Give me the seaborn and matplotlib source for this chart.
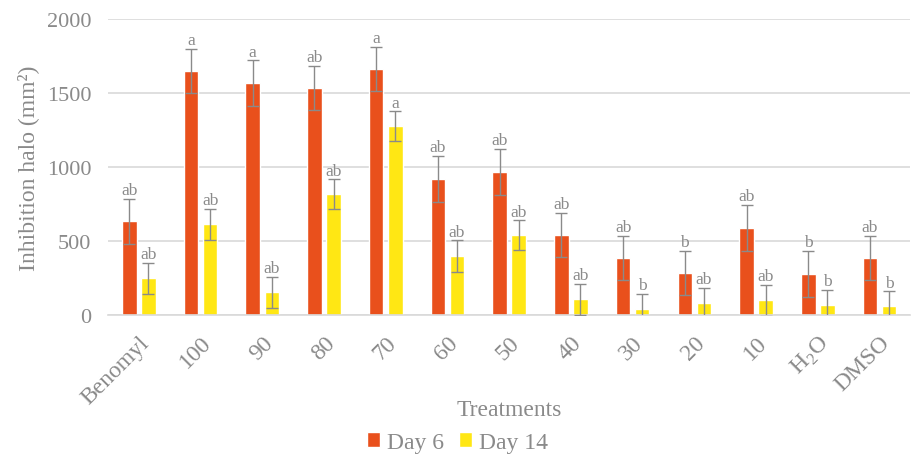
import numpy as np
import pandas as pd
import matplotlib.pyplot as plt
import seaborn as sns

treatments = ["Benomyl", "100", "90", "80", "70", "60", "50", "40", "30", "20", "10",
              r"H$_\mathregular{2}$O", "DMSO"]
day6 = [635, 1650, 1568, 1535, 1663, 919, 967, 541, 385, 284, 588, 277, 385]
day6_err = [152, 150, 155, 150, 150, 155, 155, 150, 150, 150, 155, 155, 150]
day14 = [250, 615, 155, 818, 1277, 399, 541, 108, 41, 81, 101, 68, 61]
day14_err = [105, 105, 105, 100, 100, 105, 100, 105, 100, 105, 105, 100, 100]
day6_letters = ["ab", "a", "a", "ab", "a", "ab", "ab", "ab", "ab", "b", "ab", "b", "ab"]
day14_letters = ["ab", "ab", "ab", "ab", "a", "ab", "ab", "ab", "b", "ab", "ab", "b", "b"]

sns.set_style("white")
plt.rcParams['font.family'] = 'serif'
plt.rcParams['font.serif'] = ['Liberation Serif', 'DejaVu Serif']
plt.rcParams['mathtext.fontset'] = 'custom'
plt.rcParams['mathtext.rm'] = 'Liberation Serif'

grey = "#8a8a8a"
colors = ["#E9501C", "#FFE714"]


def main():
    df = pd.DataFrame({
        "Treatment": treatments * 2,
        "Value": day6 + day14,
        "Day": ["Day 6"] * len(treatments) + ["Day 14"] * len(treatments),
    })

    fig = plt.figure(figsize=(9.15, 4.6), dpi=100)
    ax = fig.add_axes([0.118, 0.313, 0.877, 0.643])
    sns.barplot(data=df, x="Treatment", y="Value", hue="Day", order=treatments,
                hue_order=["Day 6", "Day 14"], palette=colors, width=0.62, gap=0.24,
                errorbar=None, saturation=1, ax=ax, zorder=2)

    errs = [day6_err, day14_err]
    letters = [day6_letters, day14_letters]
    bar_groups = list(ax.containers)
    for k, cont in enumerate(bar_groups):
        xs = [p.get_x() + p.get_width() / 2 for p in cont.patches]
        ys = [p.get_height() for p in cont.patches]
        ax.errorbar(xs, ys, yerr=errs[k], fmt="none", ecolor=grey, elinewidth=1,
                    capsize=4.5, capthick=1, zorder=3)
        for x, y, e, lab in zip(xs, ys, errs[k], letters[k]):
            ax.annotate(lab, (x, y + e), xytext=(0, 0.5), textcoords="offset points",
                        ha="center", va="bottom", fontsize=12.5, color=grey)

    ax.set_ylim(0, 2000)
    ax.set_xlim(-0.5, len(treatments) - 0.5)
    ax.set_yticks([0, 500, 1000, 1500, 2000])
    ax.yaxis.grid(True, color="#d9d9d9", linewidth=1.2, zorder=0)
    ax.set_axisbelow(True)
    for s in ["top", "right", "left"]:
        ax.spines[s].set_visible(False)
    ax.spines["bottom"].set_color("#d9d9d9")
    ax.spines["bottom"].set_linewidth(1.2)

    ax.tick_params(axis="y", length=0, labelsize=16, labelcolor=grey, pad=12)
    ax.tick_params(axis="x", length=0, labelsize=17, labelcolor=grey, pad=12)
    plt.setp(ax.get_xticklabels(), rotation=45, ha="right", rotation_mode="anchor")

    ax.set_xlabel("Treatments", fontsize=17, color=grey)
    ax.xaxis.set_label_coords(0.5, -0.285)
    ax.set_ylabel("Inhibition halo (mm²)", fontsize=17, color=grey)
    ax.yaxis.set_label_coords(-0.086, 0.5)

    ax.legend(loc="center", bbox_to_anchor=(0.5, 0.036), bbox_transform=fig.transFigure,
              ncol=2, frameon=False, handlelength=0.55, handleheight=0.55,
              handletextpad=0.3, columnspacing=0.6, fontsize=17, labelcolor=grey)

    plt.savefig("out.png", dpi=100)


if __name__ == "__main__":
    main()
